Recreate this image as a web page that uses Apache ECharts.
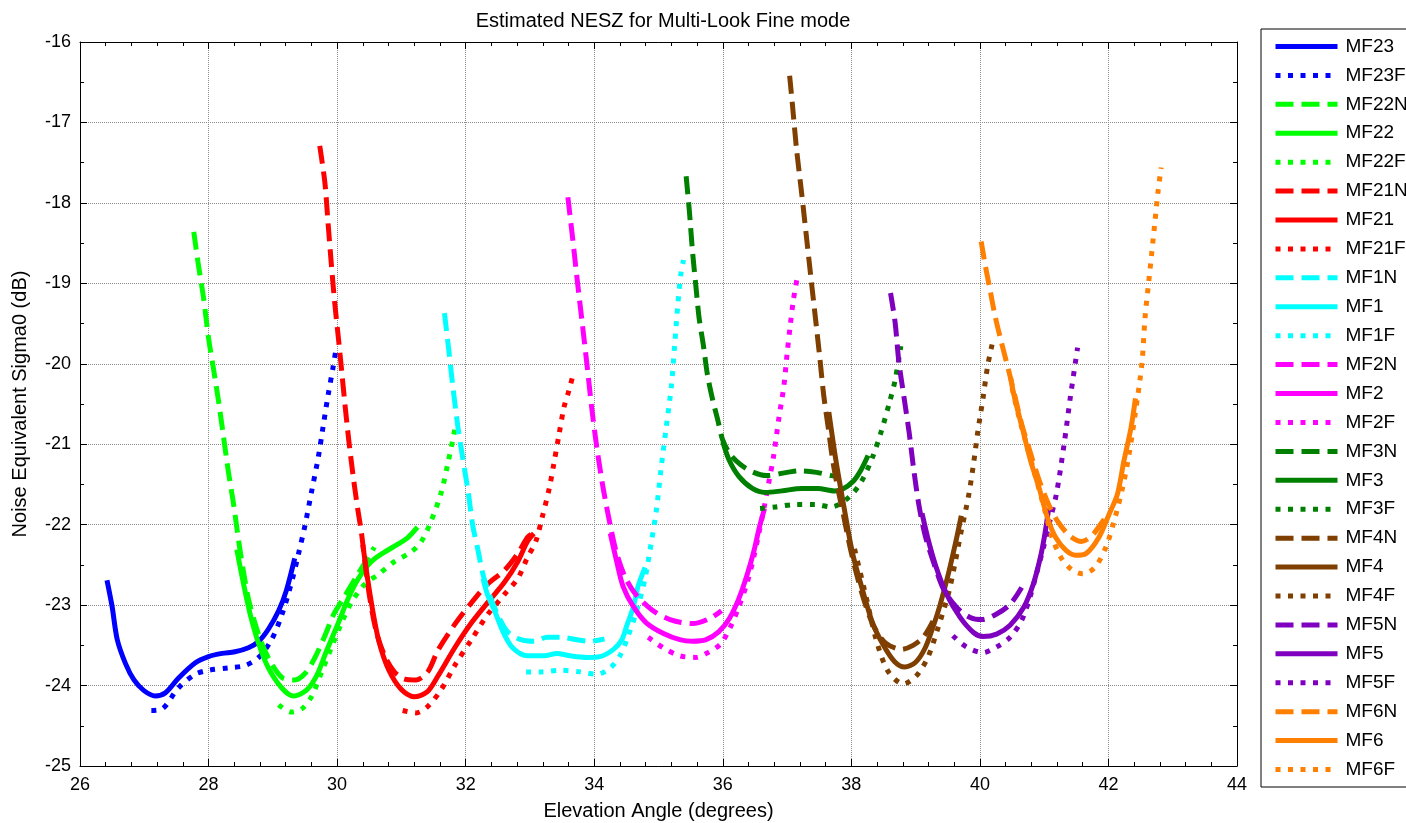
<!DOCTYPE html>
<html>
<head>
<meta charset="utf-8">
<title>Estimated NESZ for Multi-Look Fine mode</title>
<script src="https://cdn.jsdelivr.net/npm/echarts@6/dist/echarts.min.js"></script>
<style>
  html, body { margin: 0; padding: 0; background: #fff; }
  #chart { width: 1406px; height: 823px; }
</style>
</head>
<body>
<div id="chart"></div>
<script>
// Elevation angle (deg) vs NESZ (dB) for each beam: [angle, nesz]
const MF23 = [[26.42,-22.69],[26.50,-23.02],[26.58,-23.43],[26.71,-23.73],[26.84,-23.93],[26.99,-24.06],[27.17,-24.13],[27.33,-24.09],[27.53,-23.91],[27.79,-23.72],[28.0,-23.64],[28.21,-23.60],[28.41,-23.58],[28.62,-23.53],[28.78,-23.45],[28.93,-23.30],[29.09,-23.07],[29.21,-22.82],[29.34,-22.42]];
const MF23F = [[27.11,-24.31],[27.28,-24.29],[27.53,-24.03],[27.79,-23.86],[28.0,-23.81],[28.31,-23.78],[28.57,-23.75],[28.78,-23.65],[28.98,-23.43],[29.14,-23.12],[29.29,-22.72],[29.40,-22.36],[29.50,-22.01],[29.60,-21.60],[29.71,-21.15],[29.78,-20.79],[29.86,-20.39],[29.94,-20.03],[29.99,-19.78]];

const MF22N = [[27.77,-18.36],[27.84,-18.76],[27.92,-19.17],[28.0,-19.68],[28.08,-20.08],[28.16,-20.49],[28.23,-20.89],[28.31,-21.35],[28.39,-21.75],[28.47,-22.21],[28.54,-22.57],[28.62,-22.92],[28.72,-23.22],[28.83,-23.48],[28.98,-23.73],[29.16,-23.91],[29.34,-23.93],[29.50,-23.85],[29.65,-23.66],[29.80,-23.40],[29.95,-23.11],[30.11,-22.90],[30.32,-22.62],[30.58,-22.28]];
const MF22 = [[28.44,-22.31],[28.54,-22.72],[28.65,-23.12],[28.78,-23.48],[28.93,-23.78],[29.14,-24.03],[29.32,-24.13],[29.52,-24.06],[29.68,-23.88],[29.83,-23.58],[30.02,-23.22],[30.17,-22.92],[30.33,-22.67],[30.53,-22.46],[30.74,-22.34],[30.95,-22.24],[31.10,-22.16],[31.25,-22.03]];
const MF22F = [[29.09,-24.24],[29.29,-24.33],[29.45,-24.29],[29.60,-24.14],[29.76,-23.83],[29.91,-23.53],[30.07,-23.22],[30.22,-22.97],[30.43,-22.74],[30.64,-22.62],[30.89,-22.46],[31.15,-22.34],[31.31,-22.21],[31.46,-21.96],[31.62,-21.60],[31.72,-21.25],[31.80,-20.94],[31.85,-20.74]];

const MF21N = [[29.73,-17.29],[29.81,-17.75],[29.86,-18.26],[29.91,-18.76],[29.96,-19.22],[30.02,-19.68],[30.07,-20.08],[30.12,-20.49],[30.18,-20.94],[30.25,-21.40],[30.32,-21.80],[30.38,-22.11],[30.44,-22.51],[30.51,-22.92],[30.61,-23.33],[30.74,-23.63],[30.89,-23.83],[31.05,-23.92],[31.23,-23.93],[31.41,-23.83],[31.57,-23.56],[31.83,-23.24],[32.09,-22.97],[32.34,-22.74],[32.60,-22.57],[32.81,-22.36],[32.96,-22.16],[33.04,-22.11]];
const MF21 = [[30.40,-22.25],[30.47,-22.65],[30.55,-23.05],[30.65,-23.45],[30.80,-23.80],[31.0,-24.05],[31.20,-24.14],[31.40,-24.08],[31.57,-23.88],[31.83,-23.53],[32.09,-23.22],[32.34,-22.97],[32.60,-22.72],[32.81,-22.46],[32.96,-22.21],[33.06,-22.11]];
const MF21F = [[31.02,-24.31],[31.23,-24.34],[31.41,-24.26],[31.62,-24.05],[31.83,-23.75],[32.09,-23.43],[32.34,-23.12],[32.60,-22.87],[32.81,-22.67],[32.96,-22.41],[33.09,-22.21],[33.19,-21.91],[33.30,-21.55],[33.37,-21.25],[33.45,-20.89],[33.53,-20.54],[33.60,-20.35],[33.66,-20.17]];

const MF1N = [[31.67,-19.37],[31.73,-19.78],[31.80,-20.28],[31.88,-20.79],[31.96,-21.20],[32.04,-21.60],[32.11,-22.01],[32.19,-22.31],[32.27,-22.62],[32.37,-22.87],[32.50,-23.12],[32.65,-23.33],[32.86,-23.43],[33.06,-23.45],[33.27,-23.40],[33.48,-23.40],[33.73,-23.43],[33.94,-23.45],[34.16,-23.42]];
const MF1 = [[32.27,-22.67],[32.34,-22.87],[32.45,-23.07],[32.58,-23.33],[32.73,-23.53],[32.96,-23.63],[33.22,-23.63],[33.42,-23.60],[33.63,-23.63],[33.89,-23.65],[34.09,-23.64],[34.30,-23.55],[34.43,-23.43],[34.50,-23.27],[34.61,-23.02],[34.68,-22.77],[34.79,-22.53]];
const MF1F = [[32.94,-23.83],[33.17,-23.83],[33.48,-23.81],[33.78,-23.83],[34.04,-23.86],[34.25,-23.78],[34.40,-23.63],[34.53,-23.38],[34.66,-23.07],[34.79,-22.67],[34.89,-22.21],[34.97,-21.80],[35.04,-21.30],[35.12,-20.79],[35.20,-20.28],[35.25,-19.78],[35.30,-19.27],[35.35,-18.87],[35.39,-18.71]];

const MF2N = [[33.59,-17.93],[33.66,-18.41],[33.73,-18.92],[33.81,-19.47],[33.89,-20.03],[33.96,-20.54],[34.04,-21.04],[34.14,-21.55],[34.25,-22.01],[34.35,-22.36],[34.48,-22.65],[34.64,-22.86],[34.90,-23.06],[35.18,-23.18],[35.53,-23.23],[35.79,-23.17],[35.98,-23.07]];
const MF2 = [[34.25,-22.11],[34.35,-22.46],[34.45,-22.77],[34.61,-23.02],[34.81,-23.22],[35.07,-23.35],[35.33,-23.43],[35.53,-23.45],[35.74,-23.43],[35.94,-23.33],[36.10,-23.17],[36.25,-22.92],[36.38,-22.62],[36.49,-22.31],[36.57,-22.03],[36.65,-21.80]];
const MF2F = [[34.84,-23.40],[35.07,-23.53],[35.33,-23.63],[35.58,-23.65],[35.79,-23.58],[35.97,-23.48],[36.12,-23.27],[36.25,-23.02],[36.38,-22.72],[36.48,-22.41],[36.56,-22.11],[36.64,-21.80],[36.71,-21.50],[36.79,-21.15],[36.87,-20.69],[36.95,-20.28],[37.00,-19.88],[37.05,-19.52],[37.10,-19.20],[37.16,-18.92]];

const MF3N = [[35.43,-17.67],[35.48,-18.10],[35.53,-18.61],[35.58,-19.02],[35.63,-19.42],[35.70,-19.78],[35.76,-20.13],[35.84,-20.44],[35.92,-20.69],[36.0,-20.95],[36.12,-21.13],[36.27,-21.25],[36.48,-21.35],[36.68,-21.39],[37.0,-21.35],[37.2,-21.33],[37.46,-21.35],[37.69,-21.39],[37.80,-21.40]];
const MF3 = [[36.0,-20.97],[36.10,-21.20],[36.25,-21.40],[36.46,-21.55],[36.66,-21.60],[36.92,-21.58],[37.23,-21.55],[37.48,-21.55],[37.74,-21.58],[37.86,-21.56],[38.03,-21.46],[38.15,-21.32],[38.26,-21.14]];
const MF3F = [[36.58,-21.80],[36.82,-21.78],[37.13,-21.75],[37.44,-21.75],[37.69,-21.78],[37.96,-21.66],[38.16,-21.46],[38.34,-21.14],[38.47,-20.83],[38.60,-20.46],[38.68,-20.21],[38.77,-19.78]];

const MF4N = [[37.04,-16.42],[37.08,-16.75],[37.15,-17.35],[37.23,-17.90],[37.30,-18.41],[37.37,-18.92],[37.44,-19.42],[37.51,-19.93],[37.57,-20.39],[37.64,-20.79],[37.71,-21.20],[37.79,-21.55],[37.87,-21.85],[37.98,-22.28],[38.09,-22.64],[38.21,-22.97],[38.34,-23.25],[38.53,-23.47],[38.78,-23.55],[38.96,-23.50],[39.12,-23.40],[39.27,-23.20]];
const MF4 = [[37.65,-20.60],[37.76,-21.20],[37.89,-21.80],[38.02,-22.36],[38.17,-22.80],[38.33,-23.22],[38.50,-23.50],[38.67,-23.70],[38.83,-23.77],[39.0,-23.71],[39.15,-23.53],[39.28,-23.25],[39.38,-23.00],[39.51,-22.61],[39.64,-22.16],[39.71,-21.89]];
const MF4F = [[38.05,-22.30],[38.23,-22.90],[38.39,-23.44],[38.57,-23.82],[38.81,-23.98],[39.01,-23.88],[39.19,-23.65],[39.35,-23.28],[39.51,-22.86],[39.61,-22.49],[39.71,-22.08],[39.82,-21.66],[39.90,-21.25],[39.97,-20.83],[40.05,-20.42],[40.12,-20.03],[40.19,-19.76]];

const MF5N = [[38.61,-19.12],[38.68,-19.48],[38.74,-19.98],[38.82,-20.42],[38.90,-20.86],[38.97,-21.31],[39.05,-21.75],[39.15,-22.14],[39.28,-22.47],[39.44,-22.81],[39.64,-23.03],[39.84,-23.15],[40.03,-23.18],[40.26,-23.11],[40.47,-22.99],[40.65,-22.78]];
const MF5 = [[39.10,-21.86],[39.20,-22.20],[39.32,-22.53],[39.48,-22.86],[39.69,-23.15],[39.90,-23.34],[40.05,-23.39],[40.26,-23.36],[40.47,-23.25],[40.68,-23.03],[40.83,-22.74],[40.94,-22.41],[41.01,-22.12],[41.07,-21.80]];
const MF5F = [[39.58,-23.38],[39.79,-23.52],[40.05,-23.59],[40.26,-23.52],[40.47,-23.40],[40.65,-23.19],[40.78,-22.90],[40.88,-22.61],[40.99,-22.28],[41.09,-21.95],[41.19,-21.62],[41.31,-21.00],[41.41,-20.40],[41.52,-19.80]];

const MF6N = [[40.02,-18.48],[40.08,-18.76],[40.16,-19.09],[40.24,-19.42],[40.34,-19.75],[40.45,-20.09],[40.55,-20.42],[40.65,-20.75],[40.78,-21.09],[40.91,-21.42],[41.07,-21.75],[41.22,-21.97],[41.40,-22.14],[41.58,-22.21],[41.74,-22.14],[41.90,-21.97],[42.01,-21.85]];
const MF6 = [[40.48,-20.18],[40.53,-20.39],[40.66,-20.80],[40.79,-21.21],[40.92,-21.54],[41.05,-21.91],[41.18,-22.16],[41.34,-22.32],[41.49,-22.38],[41.65,-22.36],[41.85,-22.16],[42.01,-21.87],[42.14,-21.62],[42.24,-21.21],[42.35,-20.80],[42.42,-20.43]];
const MF6F = [[40.50,-20.30],[40.62,-20.70],[40.76,-21.10],[40.90,-21.50],[41.02,-21.85],[41.12,-22.15],[41.27,-22.42],[41.43,-22.56],[41.60,-22.61],[41.79,-22.53],[41.96,-22.28],[42.09,-21.95],[42.22,-21.54],[42.32,-21.13],[42.42,-20.60],[42.52,-20.00],[42.57,-19.42],[42.62,-19.03],[42.67,-18.65],[42.72,-18.26],[42.77,-17.87],[42.82,-17.56]];

// Axis ranges and tick spacing
const xTicks = { min: 26, max: 44, step: 2 };
const yTicks = { min: -25, max: -16, step: 1 };

// Beam list in legend order: name, data, colour, line kind
const beams = [
  ['MF23', MF23, '#0000ff', 'solid'],
  ['MF23F', MF23F, '#0000ff', 'dot'],
  ['MF22N', MF22N, '#00ff00', 'dash'],
  ['MF22', MF22, '#00ff00', 'solid'],
  ['MF22F', MF22F, '#00ff00', 'dot'],
  ['MF21N', MF21N, '#ff0000', 'dash'],
  ['MF21', MF21, '#ff0000', 'solid'],
  ['MF21F', MF21F, '#ff0000', 'dot'],
  ['MF1N', MF1N, '#00ffff', 'dash'],
  ['MF1', MF1, '#00ffff', 'solid'],
  ['MF1F', MF1F, '#00ffff', 'dot'],
  ['MF2N', MF2N, '#ff00ff', 'dash'],
  ['MF2', MF2, '#ff00ff', 'solid'],
  ['MF2F', MF2F, '#ff00ff', 'dot'],
  ['MF3N', MF3N, '#008000', 'dash'],
  ['MF3', MF3, '#008000', 'solid'],
  ['MF3F', MF3F, '#008000', 'dot'],
  ['MF4N', MF4N, '#7f3f00', 'dash'],
  ['MF4', MF4, '#7f3f00', 'solid'],
  ['MF4F', MF4F, '#7f3f00', 'dot'],
  ['MF5N', MF5N, '#7f00bf', 'dash'],
  ['MF5', MF5, '#7f00bf', 'solid'],
  ['MF5F', MF5F, '#7f00bf', 'dot'],
  ['MF6N', MF6N, '#ff7f00', 'dash'],
  ['MF6', MF6, '#ff7f00', 'solid'],
  ['MF6F', MF6F, '#ff7f00', 'dot']
];

const dashPatterns = { solid: 'solid', dash: [18, 8], dot: [5, 7.5] };
const LINE_W = 5;
const FONT = "'Liberation Sans', Arial, Helvetica, sans-serif";

const chart = echarts.init(document.getElementById('chart'), null, { renderer: 'canvas' });

const gridLine = { show: true, lineStyle: { color: '#8c8c8c', width: 1, type: [1, 1] } };
const axisLine = { show: true, onZero: false, lineStyle: { color: '#000', width: 1 } };

// Mirror axis on the opposite side to close the plot box
function boxAxis(range, position, minorSplit) {
  return {
    type: 'value', position: position,
    min: range.min, max: range.max, interval: range.step,
    axisLine: axisLine,
    axisTick: { show: true, inside: true, length: 7, lineStyle: { color: '#000' } },
    minorTick: { show: true, inside: true, splitNumber: minorSplit, length: 4, lineStyle: { color: '#000' } },
    axisLabel: { show: false },
    splitLine: { show: false }
  };
}

const option = {
  animation: false,
  backgroundColor: '#fff',
  textStyle: { fontFamily: FONT },
  title: {
    text: 'Estimated NESZ for Multi-Look Fine mode',
    left: 658, top: 6, textAlign: 'center',
    textStyle: { fontFamily: FONT, fontSize: 20, fontWeight: 'normal', color: '#000' }
  },
  grid: { left: 80, right: 169, top: 42, bottom: 57, containLabel: false, outerBoundsMode: 'none' },
  legend: {
    orient: 'vertical',
    left: 1261, top: 29,
    padding: [8, 30, 8, 12],
    borderColor: '#000', borderWidth: 1, backgroundColor: '#fff',
    itemWidth: 62, itemHeight: 14, itemGap: 9.92,
    selectedMode: false,
    itemStyle: { opacity: 0 },
    lineStyle: { width: LINE_W, cap: 'butt' },
    textStyle: { fontFamily: FONT, fontSize: 19, color: '#000', padding: [0, 0, 0, 3] },
    data: beams.map(b => b[0])
  },
  xAxis: [
    {
      type: 'value', position: 'bottom',
      min: xTicks.min, max: xTicks.max, interval: xTicks.step,
      name: 'Elevation Angle (degrees)', nameLocation: 'middle', nameGap: 35,
      nameTextStyle: { fontFamily: FONT, fontSize: 20, color: '#000' },
      axisLine: axisLine,
      axisTick: { show: true, inside: true, length: 7, lineStyle: { color: '#000' } },
      minorTick: { show: true, inside: true, splitNumber: 5, length: 4, lineStyle: { color: '#000' } },
      axisLabel: { fontFamily: FONT, fontSize: 18, color: '#000', margin: 10 },
      splitLine: gridLine
    },
    boxAxis(xTicks, 'top', 5)
  ],
  yAxis: [
    {
      type: 'value', position: 'left',
      min: yTicks.min, max: yTicks.max, interval: yTicks.step,
      name: 'Noise Equivalent Sigma0 (dB)', nameLocation: 'middle', nameGap: 50,
      nameTextStyle: { fontFamily: FONT, fontSize: 20, color: '#000' },
      axisLine: axisLine,
      axisTick: { show: true, inside: true, length: 7, lineStyle: { color: '#000' } },
      minorTick: { show: true, inside: true, splitNumber: 2, length: 4, lineStyle: { color: '#000' } },
      axisLabel: { fontFamily: FONT, fontSize: 18, color: '#000', margin: 9 },
      splitLine: gridLine
    },
    boxAxis(yTicks, 'right', 2)
  ],
  series: beams.map(([name, data, color, kind]) => ({
    name: name,
    type: 'line',
    xAxisIndex: 0, yAxisIndex: 0,
    data: data,
    smooth: 0.3,
    symbol: 'none',
    showSymbol: false,
    silent: true,
    color: color,
    lineStyle: { color: color, width: LINE_W, type: dashPatterns[kind], cap: 'butt', join: 'round' },
    emphasis: { disabled: true }
  }))
};

chart.setOption(option);
</script>
</body>
</html>
